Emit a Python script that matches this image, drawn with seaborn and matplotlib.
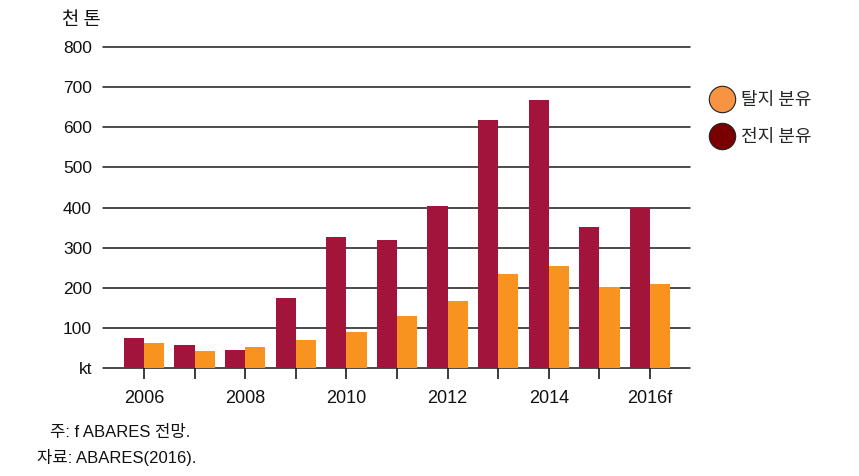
import matplotlib
matplotlib.use("Agg")
import matplotlib.pyplot as plt
import seaborn as sns
import pandas as pd
from matplotlib.lines import Line2D

years = ["2006", "2007", "2008", "2009", "2010", "2011", "2012", "2013", "2014", "2015", "2016f"]
whole_milk = [74, 57, 45, 175, 327, 319, 404, 619, 668, 352, 400]     # 전지 분유
skim_milk = [62, 42, 53, 70, 90, 130, 168, 234, 254, 201, 209]        # 탈지 분유
tick_labels = ["2006", "", "2008", "", "2010", "", "2012", "", "2014", "", "2016f"]
y_ticks = [0, 100, 200, 300, 400, 500, 600, 700, 800]
y_labels = ["kt", "100", "200", "300", "400", "500", "600", "700", "800"]

sns.set_theme(style="white")
plt.rcParams["font.family"] = ["Liberation Sans", "Noto Sans CJK KR"]

df = pd.DataFrame({
    "year": years * 2,
    "value": whole_milk + skim_milk,
    "kind": ["전지 분유"] * len(years) + ["탈지 분유"] * len(years),
})

fig = plt.figure(figsize=(8.59, 4.76), dpi=100)
ax = fig.add_axes([103 / 859, 1 - 368 / 476, (690 - 103) / 859, (368 - 47) / 476])

red = "#A3143C"
orange = "#F7931E"
sns.barplot(data=df, x="year", y="value", hue="kind", hue_order=["전지 분유", "탈지 분유"],
            palette=[red, orange], order=years, ax=ax, width=0.8, saturation=1,
            legend=False, zorder=3, linewidth=0)

ax.set_xlim(-0.81, 10.79)
ax.set_ylim(0, 800)
for v in y_ticks:
    ax.axhline(v, color="#1a1a1a", lw=1.1, zorder=1, clip_on=False)

for s in ax.spines.values():
    s.set_visible(False)

ax.set_yticks(y_ticks)
ax.set_yticklabels(y_labels, fontsize=12.5, color="#111111")
ax.tick_params(axis="y", length=0, pad=8)
ax.set_xticks(range(len(years)))
ax.set_xticklabels(tick_labels, fontsize=13, color="#111111")
ax.tick_params(axis="x", length=8, width=1.2, color="#1a1a1a", direction="out", pad=8, bottom=True)
ax.set_xlabel("")
ax.set_ylabel("")

fig.text(81 / 859, 1 - 19 / 476, "천 톤", fontsize=13.5, ha="center", va="center",
         family=["Noto Sans CJK KR"], fontweight="medium", color="#111111")

handles = [
    Line2D([0], [0], marker="o", linestyle="", markersize=19, markerfacecolor="#F79443",
           markeredgecolor="#222222", markeredgewidth=0.8),
    Line2D([0], [0], marker="o", linestyle="", markersize=19, markerfacecolor="#7A0000",
           markeredgecolor="#222222", markeredgewidth=0.8),
]
fig.legend(handles, ["탈지 분유", "전지 분유"], loc="upper left",
           bbox_to_anchor=(700 / 859, 1 - 82 / 476), frameon=False,
           prop={"family": ["Noto Sans CJK KR"], "size": 13},
           handletextpad=0.35, labelspacing=1.05, borderpad=0, handlelength=1.4)

fig.text(50 / 859, 1 - 432 / 476, "주: f ABARES 전망.", fontsize=12, ha="left", va="center",
         family=["Liberation Sans", "Noto Sans CJK KR"], color="#111111")
fig.text(37 / 859, 1 - 458 / 476, "자료: ABARES(2016).", fontsize=12, ha="left", va="center",
         family=["Liberation Sans", "Noto Sans CJK KR"], color="#111111")

fig.savefig("out.png", dpi=100)
